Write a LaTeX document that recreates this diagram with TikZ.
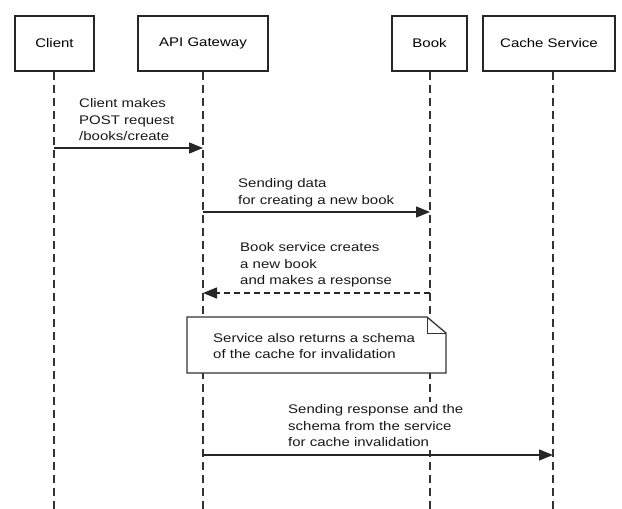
\documentclass[tikz,border=0pt]{standalone}
\usepackage{fontspec}
\setmainfont{Liberation Sans}[FakeStretch=1.2]
\usetikzlibrary{arrows.meta}
\tikzset{
  actor/.style={draw=black!85, line width=1.8pt, fill=white, minimum height=55pt, inner sep=0pt, font=\fontsize{12.5}{16.5}\selectfont},
  lifeline/.style={draw=black!80, line width=1.3pt, dash pattern=on 8pt off 5pt},
  msg/.style={draw=black!85, line width=1.4pt, -{Triangle[length=14pt,width=11pt]}},
  reply/.style={msg, dash pattern=on 6pt off 4pt},
  lbl/.style={anchor=west, align=left, inner xsep=0pt, inner ysep=3pt, fill=white, font=\fontsize{12.5}{16.5}\selectfont, text=black!90},
  notebox/.style={draw=black!80, line width=1.3pt, fill=white}
}
\begin{document}
\begin{tikzpicture}[x=1pt,y=-1pt]
\useasboundingbox (0,0) rectangle (622,509);
% actors
\node[actor, minimum width=79pt]  (client) at (54.5,43.5) {Client};
\node[actor, minimum width=130pt] (api)    at (203,43.5)  {API Gateway};
\node[actor, minimum width=75pt]  (book)   at (429.5,43.5){Book};
\node[actor, minimum width=132pt] (cache)  at (549,43.5)  {Cache Service};
% lifeline coordinates
\coordinate (clientT) at (54,72);  \coordinate (clientB) at (54,509);
\coordinate (apiT)    at (203,72); \coordinate (apiB)    at (203,509);
\coordinate (bookT)   at (430,72); \coordinate (bookB)   at (430,509);
\coordinate (cacheT)  at (553,72); \coordinate (cacheB)  at (553,509);
\draw[lifeline] (clientT) -- (clientB);
\draw[lifeline] (apiT) -- (apiB);
\draw[lifeline] (bookT) -- (bookB);
\draw[lifeline] (cacheT) -- (cacheB);
% message 1
\coordinate (m1s) at (54,148); \coordinate (m1e) at (203,148);
\draw[msg] (m1s) -- (m1e);
\node[lbl] (t1) at (79,120) {Client makes\\POST request\\/books/create};
% message 2
\coordinate (m2s) at (203,212); \coordinate (m2e) at (430,212);
\draw[msg] (m2s) -- (m2e);
\node[lbl] (t2) at (238,193) {Sending data\\for creating a new book};
% message 3
\coordinate (m3s) at (430,293); \coordinate (m3e) at (203,293);
\draw[reply] (m3s) -- (m3e);
\node[lbl] (t3) at (240,265) {Book service creates\\a new book\\and makes a response};
% note
\coordinate (nA) at (187,317);
\coordinate (nB) at (427,317);
\coordinate (nC) at (446,333);
\coordinate (nD) at (446,373);
\coordinate (nE) at (187,373);
\coordinate (nF) at (427,333);
\draw[notebox] (nA) -- (nB) -- (nC) -- (nD) -- (nE) -- cycle;
\draw[draw=black!80, line width=1pt] (nB) -- (nF) -- (nC);
\node[lbl] (tn) at (213,346) {Service also returns a schema\\of the cache for invalidation};
% message 4
\coordinate (m4s) at (203,455); \coordinate (m4e) at (553,455);
\draw[msg] (m4s) -- (m4e);
\node[lbl] (t4) at (288,426) {Sending response and the\\schema from the service\\for cache invalidation};
\end{tikzpicture}
\end{document}
